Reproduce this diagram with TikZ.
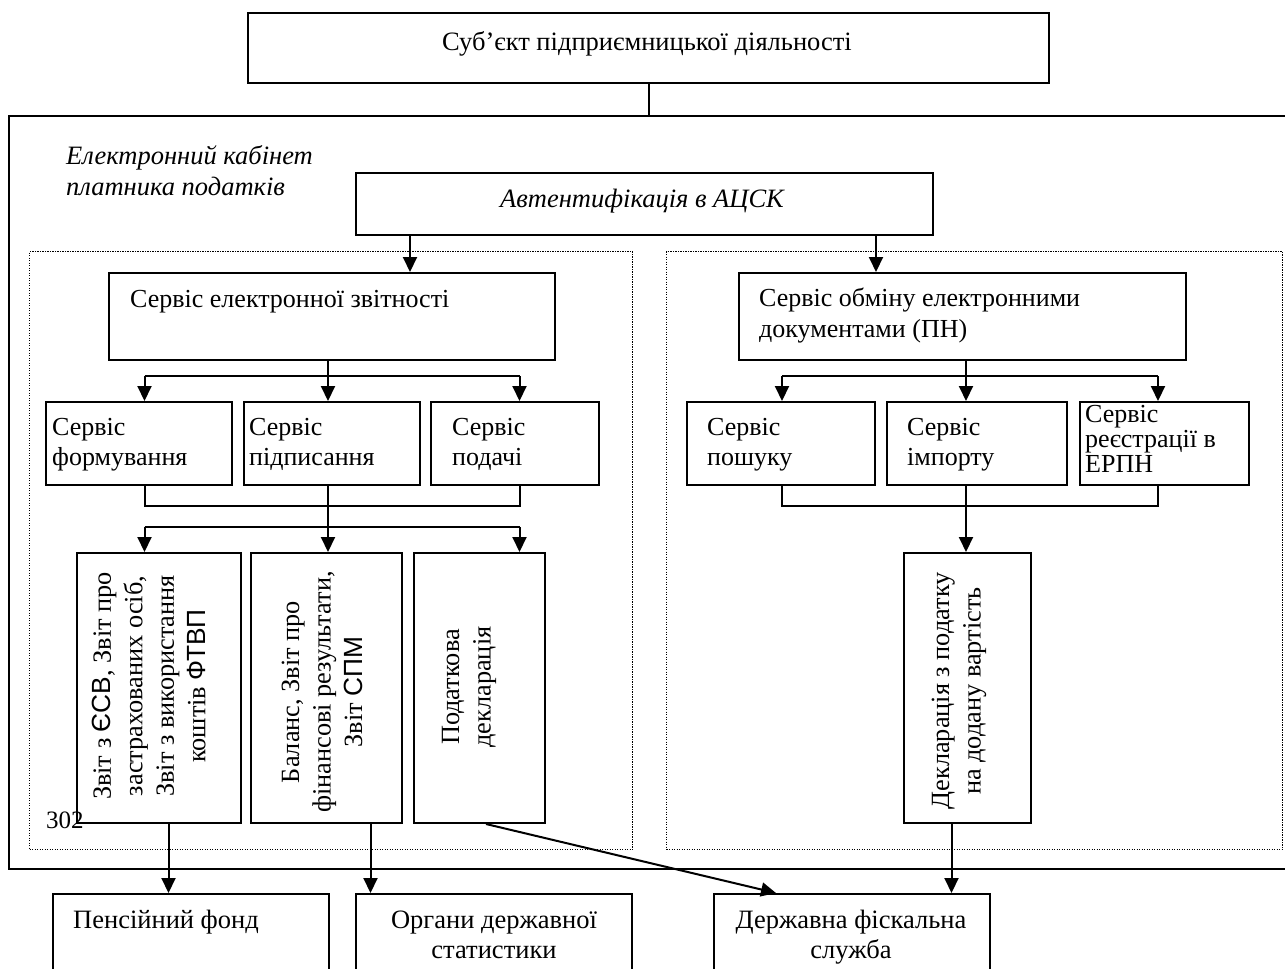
\documentclass[tikz,border=0pt]{standalone}
\usepackage{fontspec}
\setmainfont{Liberation Serif}
\newfontfamily\sansf{Liberation Sans}
\usetikzlibrary{arrows.meta}
\begin{document}
\begin{tikzpicture}[x=1pt,y=-1pt,
  box/.style={draw, line width=2pt, inner sep=0pt, anchor=north west, fill=none},
  conn/.style={line width=2pt},
  arr/.style={conn, -{Triangle[length=15pt,width=14pt]}},
  dotbox/.style={draw, line width=1.2pt, dash pattern=on 1.2pt off 1.3pt},
  t/.style={anchor=base west, inner sep=0pt, font=\fontsize{26}{30}\selectfont},
  tc/.style={anchor=base, inner sep=0pt, font=\fontsize{26.5}{30}\selectfont},
  rot/.style={rotate=90, align=center, inner sep=0pt, font=\fontsize{26.3}{31.5}\selectfont}
]
\useasboundingbox (0,0) rectangle (1285,969);
\begin{scope}
\clip (0,0) rectangle (1285,969);
% top
\node[box, minimum width=801pt, minimum height=70pt] (top) at (247,12) {};
\node[anchor=base, inner sep=0pt, font=\fontsize{26.5}{30}\selectfont] (toptx) at (647,50) {Суб’єкт підприємницької діяльності};
\node[box, line width=2.4pt, minimum width=1300pt, minimum height=753pt] (frame) at (8,115) {};
\draw[conn] (top.south) -- (top.south |- frame.north);
\node[anchor=base west, inner sep=0pt, font=\fontsize{26.5}{30}\itshape\selectfont] (cab1) at (66,164) {Електронний кабінет};
\node[anchor=base west, inner sep=0pt, font=\fontsize{26.5}{30}\itshape\selectfont] (cab2) at (66,195) {платника податків};
% auth
\node[box, minimum width=577pt, minimum height=62pt] (auth) at (355,172) {};
\node[anchor=base, inner sep=0pt, font=\fontsize{26.5}{30}\itshape\selectfont] (authtx) at (642,207) {Автентифікація в АЦСК};
% dotted areas
\node[dotbox, anchor=north west, minimum width=603pt, minimum height=598pt] (left) at (29,251) {};
\node[dotbox, anchor=north west, minimum width=616pt, minimum height=598pt] (right) at (666,251) {};
% service boxes
\node[box, minimum width=446pt, minimum height=87pt] (es) at (108,272) {};
\node[t] (estx) at (130,307) {Сервіс електронної звітності};
\node[box, minimum width=447pt, minimum height=87pt] (ob) at (738,272) {};
\node[t] (obtx1) at (759,306) {Сервіс обміну електронними};
\node[t] (obtx2) at (759,337) {документами (ПН)};
\coordinate (xa) at (410,0);
\coordinate (xb) at (876,0);
\draw[arr] (auth.south -| xa) -- (es.north -| xa);
\draw[arr] (auth.south -| xb) -- (ob.north -| xb);
% level 2 left
\node[box, minimum width=186pt, minimum height=83pt] (s1) at (45,401) {};
\node[t] (s1a) at (52,435) {Сервіс};
\node[t] (s1b) at (52,465) {формування};
\node[box, minimum width=176pt, minimum height=83pt] (s2) at (243,401) {};
\node[t] (s2a) at (249,435) {Сервіс};
\node[t] (s2b) at (249,465) {підписання};
\node[box, minimum width=168pt, minimum height=83pt] (s3) at (430,401) {};
\node[t] (s3a) at (452,435) {Сервіс};
\node[t] (s3b) at (452,465) {подачі};
\coordinate (c1) at (144.5,376);
\coordinate (c2) at (328,376);
\coordinate (c3) at (519.5,376);
\draw[conn] (es.south -| c2) -- (c2);
\draw[conn] (c1) -- (c3);
\draw[arr] (c1) -- (s1.north -| c1);
\draw[arr] (c2) -- (s2.north -| c2);
\draw[arr] (c3) -- (s3.north -| c3);
% level 2 right
\node[box, minimum width=188pt, minimum height=83pt] (p1) at (686,401) {};
\node[t] (p1a) at (707,435) {Сервіс};
\node[t] (p1b) at (707,465) {пошуку};
\node[box, minimum width=180pt, minimum height=83pt] (p2) at (886,401) {};
\node[t] (p2a) at (907,435) {Сервіс};
\node[t] (p2b) at (907,465) {імпорту};
\node[box, minimum width=169pt, minimum height=83pt] (p3) at (1079,401) {};
\node[t] (p3a) at (1085,422) {Сервіс};
\node[t] (p3b) at (1085,447) {реєстрації в};
\node[t] (p3c) at (1085,472) {ЕРПН};
\coordinate (d1) at (782,376);
\coordinate (d2) at (966,376);
\coordinate (d3) at (1158,376);
\draw[conn] (ob.south -| d2) -- (d2);
\draw[conn] (d1) -- (d3);
\draw[arr] (d1) -- (p1.north -| d1);
\draw[arr] (d2) -- (p2.north -| d2);
\draw[arr] (d3) -- (p3.north -| d3);
% merge left
\coordinate (e1) at (144.5,506);
\coordinate (e2) at (328,506);
\coordinate (e3) at (519.5,506);
\coordinate (f1) at (144.5,527);
\coordinate (f2) at (328,527);
\coordinate (f3) at (519.5,527);
\draw[conn] (s1.south -| e1) -- (e1) -- (e3) -- (s3.south -| e3);
\draw[conn] (s2.south -| e2) -- (f2);
\draw[conn] (f1) -- (f3);
% report boxes
\node[box, minimum width=164pt, minimum height=270pt] (rA) at (76,552) {};
\node[box, minimum width=151pt, minimum height=270pt] (rB) at (250,552) {};
\node[box, minimum width=131pt, minimum height=270pt] (rC) at (413,552) {};
\draw[arr] (f1) -- (rA.north -| f1);
\draw[arr] (f2) -- (rB.north -| f2);
\draw[arr] (f3) -- (rC.north -| f3);
\node[rot] (rAt) at (149,686) {Звіт з {\sansf ЄСВ}, Звіт про\\застрахованих осіб,\\Звіт з використання\\коштів {\sansf ФТВП}};
\node[rot] (rBt) at (322,692) {Баланс, Звіт про\\фінансові результати,\\Звіт {\sansf СПМ}};
\node[rot] (rCt) at (469,687) {Податкова\\декларація};
% merge right
\coordinate (g1) at (782,506);
\coordinate (g2) at (966,506);
\coordinate (g3) at (1158,506);
\draw[conn] (p1.south -| g1) -- (g1) -- (g3) -- (p3.south -| g3);
\node[box, minimum width=127pt, minimum height=270pt] (decl) at (903,552) {};
\draw[arr] (p2.south -| g2) -- (decl.north -| g2);
\node[rot] (declt) at (959,691) {Декларація з податку\\на додану вартість};
\node[anchor=base west, inner sep=0pt, font=\fontsize{25}{28}\selectfont] (num) at (46,828) {302};
% bottom boxes
\node[box, minimum width=276pt, minimum height=100pt] (b1) at (52,893) {};
\node[box, minimum width=276pt, minimum height=100pt] (b2) at (355,893) {};
\node[box, minimum width=276pt, minimum height=100pt] (b3) at (713,893) {};
\node[tc, anchor=base west] (b1t) at (73,928) {Пенсійний фонд};
\node[tc] (b2t1) at (494,928) {Органи державної};
\node[tc] (b2t2) at (494,958) {статистики};
\node[tc] (b3t1) at (851,928) {Державна фіскальна};
\node[tc] (b3t2) at (851,958) {служба};
\coordinate (hA) at (168.5,0);
\coordinate (hB) at (370.5,0);
\coordinate (hC) at (486,0);
\coordinate (hD) at (951.5,0);
\coordinate (tipC) at (776,893);
\draw[arr] (rA.south -| hA) -- (b1.north -| hA);
\draw[arr] (rB.south -| hB) -- (b2.north -| hB);
\draw[arr] (rC.south -| hC) -- (tipC);
\draw[arr] (decl.south -| hD) -- (b3.north -| hD);
\end{scope}
\end{tikzpicture}
\end{document}
